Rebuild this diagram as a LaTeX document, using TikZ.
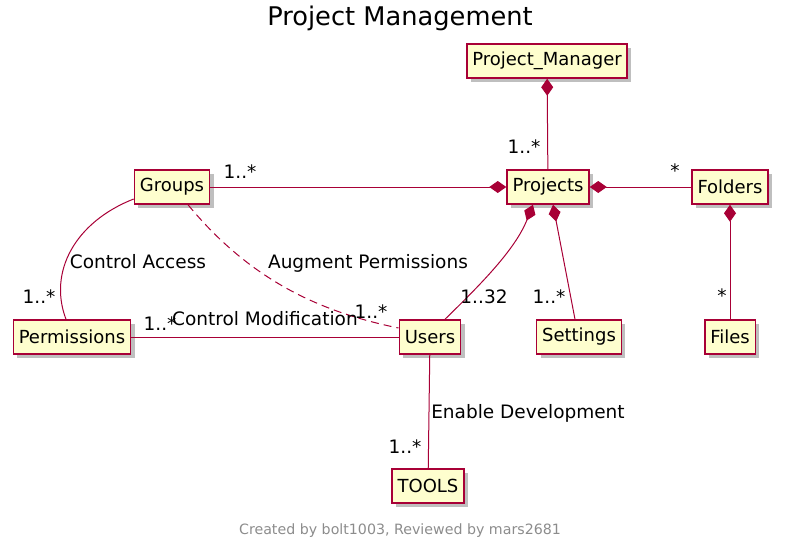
\documentclass[tikz,border=0pt]{standalone}
\usepackage{fontspec}
\setmainfont{DejaVu Sans}
\usetikzlibrary{arrows.meta,shadows,calc}
\definecolor{umlred}{HTML}{A80036}
\definecolor{umlfill}{HTML}{FEFECE}
\tikzset{
  umlclass/.style={draw=umlred, line width=1.5pt, fill=umlfill, minimum height=34pt,
    inner xsep=5.5pt, inner ysep=0pt, font=\fontsize{18}{20}\selectfont,
    drop shadow={shadow xshift=4pt, shadow yshift=-4pt, fill=black, opacity=0.25}},
  assoc/.style={draw=umlred, line width=1pt},
  comp/.style={assoc, {Diamond[length=17pt,width=12pt]}-},
  mult/.style={anchor=base, inner sep=0pt, font=\fontsize{18.5}{20}\selectfont},
}

\begin{document}
\begin{tikzpicture}[x=1pt,y=-1pt]
      \useasboundingbox (0,0) rectangle (785,551);
      % Title
      \node[anchor=base, inner sep=0pt, font=\fontsize{25.7}{28}\selectfont] (title) at (400,26) {Project Management};
      % Classes
      \node[umlclass] (pm) at (547,61) {Project\_Manager};
      \node[umlclass] (grp) at (172,187) {Groups};
      \node[umlclass] (proj) at (548,187) {Projects};
      \node[umlclass] (fold) at (730,187) {Folders};
      \node[umlclass] (perm) at (72,337) {Permissions};
      \node[umlclass] (usr) at (430,337) {Users};
      \node[umlclass] (sett) at (579,337) {Settings};
      \node[umlclass] (files) at (730,337) {Files};
      \node[umlclass] (tools) at (428,486) {TOOLS};
      % Compositions
      \draw[comp] (pm) -- (proj);
      \draw[comp] (proj) -- (grp);
      \draw[comp] (proj) -- (fold);
      \draw[comp] (fold) -- (files);
      \draw[comp] ([xshift=-15pt]proj.south) .. controls (515,250) and (480,285) .. ([xshift=15pt]usr.north);
      \draw[comp] ([xshift=5pt]proj.south) -- ([xshift=-4pt]sett.north);
      % Associations
      \draw[assoc] ([yshift=-12pt]grp.west) .. controls (75,222) and (48,272) .. ([xshift=-6pt]perm.north);
      \draw[assoc, dashed, dash pattern=on 8pt off 5pt] ([xshift=16pt]grp.south) .. controls (250,280) and (320,312) .. ([yshift=9pt]usr.west);
      \draw[assoc] (perm) -- (usr);
      \draw[assoc] (usr) -- (tools);
      % Multiplicities
      \node[mult] (m1) at (524,153) {1..*};
      \node[mult] (m2) at (240,178) {1..*};
      \node[mult] (m3) at (675,177) {*};
      \node[mult] (m4) at (722,302) {*};
      \node[mult] (m5) at (484,303) {1..32};
      \node[mult] (m6) at (549,303) {1..*};
      \node[mult] (m7) at (39,303) {1..*};
      \node[mult] (m8) at (371,318) {1..*};
      \node[mult] (m9) at (160,330) {1..*};
      \node[mult] (m10) at (405,453) {1..*};
      % Association labels
      \node[mult] (l1) at (138,268) {Control Access};
      \node[mult] (l2) at (368,268) {Augment Permissions};
      \node[mult] (l3) at (265,325) {Control Modification};
      \node[mult] (l4) at (528,418) {Enable Development};
      % Footer
      \node[anchor=base, inner sep=0pt, text=gray!90, font=\fontsize{14.2}{16}\selectfont] (foot) at (400,534) {Created by bolt1003, Reviewed by mars2681};
    \end{tikzpicture}
\end{document}
